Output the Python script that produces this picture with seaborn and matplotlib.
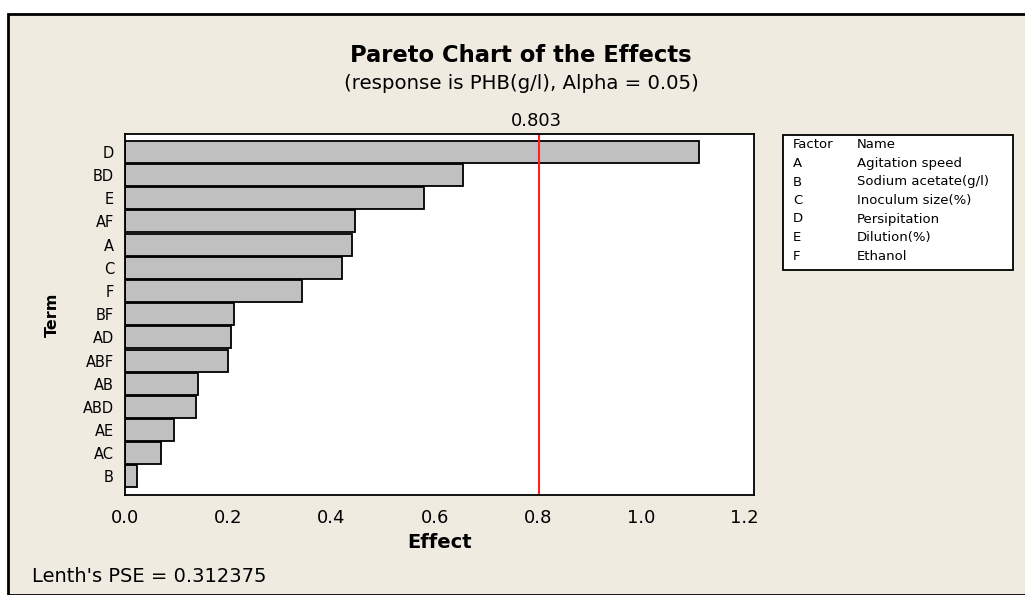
# Pareto chart of the effects (Minitab style)

import pandas as pd
import matplotlib
matplotlib.use("Agg")
import matplotlib.pyplot as plt
from matplotlib.patches import Rectangle
import seaborn as sns

# data
terms = ["D", "BD", "E", "AF", "A", "C", "F", "BF", "AD", "ABF", "AB", "ABD", "AE", "AC", "B"]
effects = [1.112, 0.655, 0.580, 0.446, 0.440, 0.420, 0.343, 0.211, 0.205, 0.199, 0.142, 0.138, 0.094, 0.069, 0.023]
critical = 0.803
factor_codes = ["A", "B", "C", "D", "E", "F"]
factor_names = ["Agitation speed", "Sodium acetate(g/l)", "Inoculum size(%)",
                "Persipitation", "Dilution(%)", "Ethanol"]
pse_text = "Lenth's PSE = 0.312375"

df = pd.DataFrame({"term": terms, "effect": effects})

sns.set_style("white")
plt.rcParams["font.family"] = ["DejaVu Sans"]
plt.rcParams["text.color"] = "black"
plt.rcParams["axes.labelcolor"] = "black"
plt.rcParams["xtick.color"] = "black"
plt.rcParams["ytick.color"] = "black"

bg = "#EFEBE1"
W, H = 1025, 595
fig = plt.figure(figsize=(W / 100, H / 100), dpi=100)
fig.patch.set_facecolor("white")

# beige panel with black frame (top/left edges visible)
panel = Rectangle((8 / W, 0), 1.2, (H - 14) / H, transform=fig.transFigure,
                  facecolor=bg, edgecolor="black", linewidth=2, zorder=-10)
fig.patches.append(panel)

ax = fig.add_axes([125 / W, (H - 495) / H, (754 - 125) / W, (495 - 134) / H])
sns.barplot(data=df, x="effect", y="term", orient="h", color="#C0C0C0",
            edgecolor="black", linewidth=1.3, width=0.95, saturation=1, ax=ax)
ax.set_facecolor("white")
ax.axvline(critical, color="#FF2020", linewidth=1.5)

ax.set_xlim(0, 1.219)
ax.set_ylim(len(terms) - 0.5 + 0.3, -0.5 - 0.27)
ax.set_xticks([0.0, 0.2, 0.4, 0.6, 0.8, 1.0, 1.2])
ax.set_xticklabels(["0.0", "0.2", "0.4", "0.6", "0.8", "1.0", "1.2"])
ax.tick_params(axis="x", direction="out", length=5, width=1.2, labelsize=13, pad=5)
ax.tick_params(axis="y", direction="out", length=5, width=1.2, labelsize=10.5, pad=3)
for s in ax.spines.values():
    s.set_color("black")
    s.set_linewidth(1.3)
ax.set_xlabel("Effect", fontsize=14, fontweight="bold", va="center")
ax.xaxis.set_label_coords(0.5, (495 - 542) / 361)
ax.set_ylabel("Term", fontsize=11.5, fontweight="bold", va="center")
ax.yaxis.set_label_coords((52 - 125) / 629, (495 - 315) / 361)

# critical value label
ax.text(critical - 0.005, 1.035, f"{critical:.3f}", transform=ax.get_xaxis_transform(),
        ha="center", va="center", fontsize=13)

# titles
fig.text(521 / W, 1 - 56 / H, "Pareto Chart of the Effects", ha="center", va="center",
         fontsize=16.3, fontweight="bold")
fig.text(521 / W, 1 - 84 / H, "(response is PHB(g/l), Alpha = 0.05)", ha="center",
         va="center", fontsize=14.2)

# factor key box
key = Rectangle((783 / W, 1 - 270 / H), (1013 - 783) / W, (270 - 135) / H,
                transform=fig.transFigure, facecolor="white", edgecolor="black",
                linewidth=1.3)
fig.patches.append(key)
y0 = 145
fig.text(793 / W, 1 - y0 / H, "Factor", fontsize=9.5, va="center")
fig.text(857 / W, 1 - y0 / H, "Name", fontsize=9.5, va="center")
for i, (c, n) in enumerate(zip(factor_codes, factor_names)):
    yy = y0 + 18.5 * (i + 1)
    fig.text(793 / W, 1 - yy / H, c, fontsize=9.5, va="center")
    fig.text(857 / W, 1 - yy / H, n, fontsize=9.5, va="center")

fig.text(32 / W, 1 - 577 / H, pse_text, fontsize=14, va="center")

fig.savefig("out.png", dpi=100, facecolor=fig.get_facecolor())
